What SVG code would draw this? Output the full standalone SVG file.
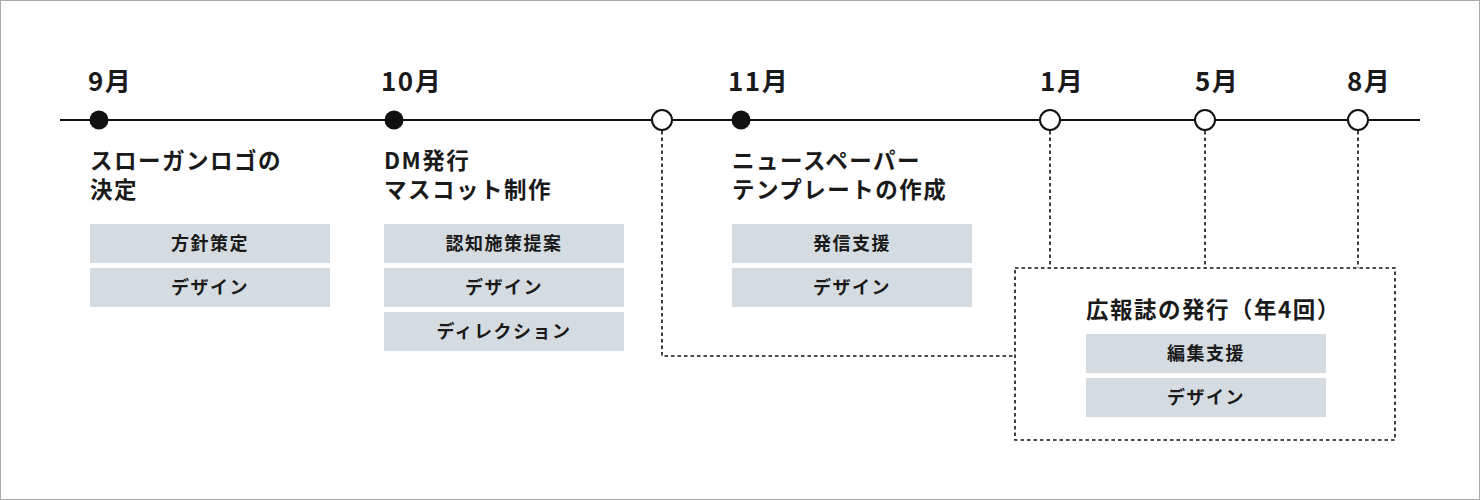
<svg xmlns="http://www.w3.org/2000/svg" width="1480" height="500" viewBox="0 0 1480 500">
<style>
text{font-family:"Noto Sans CJK JP","Noto Sans",sans-serif;fill:#1a1a1a}
.m{font-size:26px;font-weight:700;letter-spacing:1.5px}
.t{font-size:22.5px;font-weight:700;letter-spacing:1.5px}
.b{fill:#d5dce1}
.bt{font-size:18px;font-weight:700;text-anchor:middle;letter-spacing:1.5px}
.dot{fill:#111}
.open{fill:#fff;stroke:#111;stroke-width:2}
.dash{fill:none;stroke:#111;stroke-width:1.6;stroke-dasharray:3.5 3}
</style>
<rect x="0.5" y="0.5" width="1479" height="499" fill="#fff" stroke="#aaa" stroke-width="1"/>
<g id="connectors">
<line x1="60" y1="120" x2="1420" y2="120" stroke="#111" stroke-width="2"/>
<path class="dash" d="M662 131 V356 H1015"/>
<path class="dash" d="M1050 131 V268"/>
<path class="dash" d="M1205 131 V268"/>
<path class="dash" d="M1358 131 V268"/>
</g>
<g id="sep">
<text class="m" x="88" y="91">9月</text>
<circle class="dot" cx="99" cy="120" r="9.5"/>
<text class="t" x="90" y="169">スローガンロゴの</text>
<text class="t" x="90" y="198">決定</text>
<rect class="b" x="90" y="224" width="240" height="39"/>
<text class="bt" x="210" y="250">方針策定</text>
<rect class="b" x="90" y="268" width="240" height="39"/>
<text class="bt" x="210" y="294">デザイン</text>
</g>
<g id="oct">
<text class="m" x="381" y="91">10月</text>
<circle class="dot" cx="394" cy="120" r="9.5"/>
<text class="t" x="384" y="169">DM発行</text>
<text class="t" x="384" y="198">マスコット制作</text>
<rect class="b" x="384" y="224" width="240" height="39"/>
<text class="bt" x="504" y="250">認知施策提案</text>
<rect class="b" x="384" y="268" width="240" height="39"/>
<text class="bt" x="504" y="294">デザイン</text>
<rect class="b" x="384" y="312" width="240" height="39"/>
<text class="bt" x="504" y="338">ディレクション</text>
</g>
<g id="mid">
<circle class="open" cx="662" cy="120" r="10"/>
</g>
<g id="nov">
<text class="m" x="728" y="91">11月</text>
<circle class="dot" cx="741" cy="120" r="9.5"/>
<text class="t" x="732" y="169">ニュースペーパー</text>
<text class="t" x="732" y="198">テンプレートの作成</text>
<rect class="b" x="732" y="224" width="240" height="39"/>
<text class="bt" x="852" y="250">発信支援</text>
<rect class="b" x="732" y="268" width="240" height="39"/>
<text class="bt" x="852" y="294">デザイン</text>
</g>
<g id="jan">
<text class="m" x="1040" y="91">1月</text>
<circle class="open" cx="1050" cy="120" r="10"/>
</g>
<g id="may">
<text class="m" x="1195" y="91">5月</text>
<circle class="open" cx="1205" cy="120" r="10"/>
</g>
<g id="aug">
<text class="m" x="1347" y="91">8月</text>
<circle class="open" cx="1358" cy="120" r="10"/>
</g>
<g id="magazine">
<rect class="dash" x="1015" y="268" width="380" height="172"/>
<text class="t" x="1086" y="318">広報誌の発行（年4回）</text>
<rect class="b" x="1086" y="334" width="240" height="39"/>
<text class="bt" x="1206" y="360">編集支援</text>
<rect class="b" x="1086" y="378" width="240" height="39"/>
<text class="bt" x="1206" y="404">デザイン</text>
</g>
</svg>
